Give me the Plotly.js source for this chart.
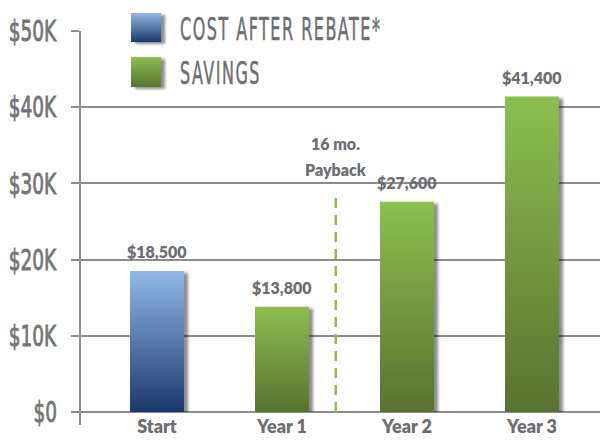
<!DOCTYPE html>
<html>
<head>
<meta charset="utf-8">
<script src="https://cdn.plot.ly/plotly-3.0.1.min.js"></script>
<style>
html,body{margin:0;padding:0;background:#fff;}
#chart{width:600px;height:443px;}
</style>
</head>
<body>
<div id="chart"></div>
<script>
// ---- data ----
var costCategories = ["Start"];
var costValues = [18500];
var savingsCategories = ["Year 1", "Year 2", "Year 3"];
var savingsValues = [13800, 27600, 41400];
var seriesNames = ["COST AFTER REBATE*", "SAVINGS"];
var yTickValues = [0, 10000, 20000, 30000, 40000, 50000];
var yTickLabels = ["$0", "$10K", "$20K", "$30K", "$40K", "$50K"];
var paybackPosition = [1.43];
var paybackLabel = ["16 mo.", "Payback"];

var condFont = "DejaVu Sans";
var boldFont = "Lato, Open Sans, sans-serif";
var textGray = "#6d6e71";
var gridGray = "#8c8c8c";

function money(v){ return "$" + v.toLocaleString("en-US"); }

var data = [
  {type:"bar", name:seriesNames[0], x:costCategories, y:costValues, width:0.432,
   marker:{color:"#5d80b5"}, showlegend:false, hoverinfo:"skip"},
  {type:"bar", name:seriesNames[1], x:savingsCategories, y:savingsValues, width:0.432,
   marker:{color:"#73983f"}, showlegend:false, hoverinfo:"skip"}
];

var labelFont = {family:boldFont, size:16, color:textGray, weight:800};
var annotations = [];
costCategories.forEach(function(c,i){
  annotations.push({x:c, y:costValues[i], xref:"x", yref:"y", text:money(costValues[i]),
    showarrow:false, yanchor:"bottom", yshift:8, font:labelFont});
});
savingsCategories.forEach(function(c,i){
  annotations.push({x:c, y:savingsValues[i], xref:"x", yref:"y", text:money(savingsValues[i]),
    showarrow:false, yanchor:"bottom", yshift:8, font:labelFont});
});
annotations.push({x:paybackPosition[0], y:1.0 - (143-31)/381, xref:"x", yref:"paper", text:paybackLabel[0],
  showarrow:false, yanchor:"middle", font:labelFont});
annotations.push({x:paybackPosition[0], y:1.0 - (169-31)/381, xref:"x", yref:"paper", text:paybackLabel[1],
  showarrow:false, yanchor:"middle", font:labelFont});
// legend texts
annotations.push({x:(180-80)/520, y:(412-29)/381, xref:"paper", yref:"paper", text:seriesNames[0],
  showarrow:false, xanchor:"left", yanchor:"middle", font:{family:condFont, size:32, color:textGray}});
annotations.push({x:(180-80)/520, y:(412-73)/381, xref:"paper", yref:"paper", text:seriesNames[1],
  showarrow:false, xanchor:"left", yanchor:"middle", font:{family:condFont, size:32, color:textGray}});

var shapes = [
  {type:"rect", xref:"paper", yref:"paper", x0:(115-80)/520, x1:(399-80)/520, y0:(412-38)/381, y1:(412-24)/381,
   fillcolor:"#ffffff", line:{width:0}, layer:"above"},
  {type:"line", xref:"paper", yref:"paper", x0:0, x1:0, y0:-13/381, y1:1, line:{color:gridGray, width:2}},
  {type:"line", xref:"x", yref:"y", x0:paybackPosition[0], x1:paybackPosition[0], y0:0, y1:28900,
   line:{color:"#8bbe4f", width:2.5, dash:"10px,7px"}},
  {type:"rect", xref:"paper", yref:"paper", x0:(131-80)/520, x1:(161-80)/520, y0:(412-42)/381, y1:(412-13)/381,
   fillcolor:"#5d80b5", line:{width:0}},
  {type:"rect", xref:"paper", yref:"paper", x0:(131-80)/520, x1:(161-80)/520, y0:(412-87)/381, y1:(412-57)/381,
   fillcolor:"#73983f", line:{width:0}}
];

var layout = {
  width:600, height:443,
  margin:{l:80, r:0, t:31, b:31},
  paper_bgcolor:"#ffffff", plot_bgcolor:"#ffffff",
  barmode:"overlay",
  showlegend:false,
  xaxis:{type:"category", categoryorder:"array", categoryarray:costCategories.concat(savingsCategories),
    range:[-0.616, 3.544], showgrid:false, zeroline:false, showline:false, ticks:"",
    tickfont:{family:boldFont, size:18, color:textGray, weight:800}, ticklabelstandoff:2},
  yaxis:{range:[0, 50000], tickvals:yTickValues, ticktext:yTickLabels, showgrid:true, gridcolor:gridGray, gridwidth:2,
    zeroline:true, zerolinecolor:gridGray, zerolinewidth:2, showline:false,
    ticks:"outside", ticklen:8, tickwidth:2, tickcolor:gridGray, ticklabelstandoff:15,
    tickfont:{family:condFont, size:29, color:"#757575"}},
  shapes:shapes,
  annotations:annotations
};

// horizontally condense a text element, then pin its left (or right) edge to a page x position
function condenseTo(el, sx, edge, targetX){
  var prev = el.getAttribute("transform") || "";
  el.setAttribute("transform", prev + " scale(" + sx + ",1)");
  var r = el.getBoundingClientRect();
  var host = document.getElementById("chart").getBoundingClientRect();
  var cur = (edge === "right" ? r.right : r.left) - host.left;
  var dx = targetX - cur;
  el.setAttribute("transform", prev + " translate(" + dx + ",0) scale(" + sx + ",1)");
}

Plotly.newPlot("chart", data, layout, {displayModeBar:false, staticPlot:true}).then(function(gd){
  var ns = "http://www.w3.org/2000/svg";
  var svg = gd.querySelector(".main-svg");
  var defs = svg.querySelector("defs");
  if(!defs){ defs = document.createElementNS(ns,"defs"); svg.insertBefore(defs, svg.firstChild); }
  function grad(id, c1, c2){
    var g = document.createElementNS(ns,"linearGradient");
    g.setAttribute("id", id); g.setAttribute("x1","0"); g.setAttribute("y1","0"); g.setAttribute("x2","0"); g.setAttribute("y2","1");
    [[0,c1],[1,c2]].forEach(function(s){
      var st = document.createElementNS(ns,"stop");
      st.setAttribute("offset", s[0]); st.setAttribute("stop-color", s[1]); g.appendChild(st);
    });
    defs.appendChild(g);
  }
  grad("g0", "#92b9e5", "#1c386a");
  grad("g1", "#8cbf50", "#587230");
  var f = document.createElementNS(ns,"filter");
  f.setAttribute("id","shd"); f.setAttribute("x","-20%"); f.setAttribute("y","-20%"); f.setAttribute("width","160%"); f.setAttribute("height","140%");
  var ds = document.createElementNS(ns,"feDropShadow");
  ds.setAttribute("dx","4"); ds.setAttribute("dy","2"); ds.setAttribute("stdDeviation","1.6");
  ds.setAttribute("flood-color","#000"); ds.setAttribute("flood-opacity","0.45");
  f.appendChild(ds); defs.appendChild(f);
  gd.querySelectorAll(".trace.bars").forEach(function(t,i){
    t.querySelectorAll("path").forEach(function(p){ p.style.fill = "url(#g"+i+")"; p.style.filter = "url(#shd)"; });
  });
  [3,4].forEach(function(idx, i){
    var p = gd.querySelector('.shapelayer path[data-index="'+idx+'"]');
    if(p){ p.style.fill = "url(#g"+i+")"; p.style.fillOpacity = 1; p.style.filter = "url(#shd)"; }
  });
  gd.querySelectorAll(".ytick text").forEach(function(t){
    t.style.stroke = "#757575"; t.style.strokeWidth = "0.9px";
    condenseTo(t, 0.64, "right", 57);
  });
  var ann = gd.querySelectorAll(".annotation-text");
  [ann[ann.length-2], ann[ann.length-1]].forEach(function(t){
    if(t){
      t.style.letterSpacing = "3px"; t.style.stroke = textGray; t.style.strokeWidth = "0.6px";
      condenseTo(t, 0.5, "left", 180);
    }
  });
});
</script>
</body>
</html>
